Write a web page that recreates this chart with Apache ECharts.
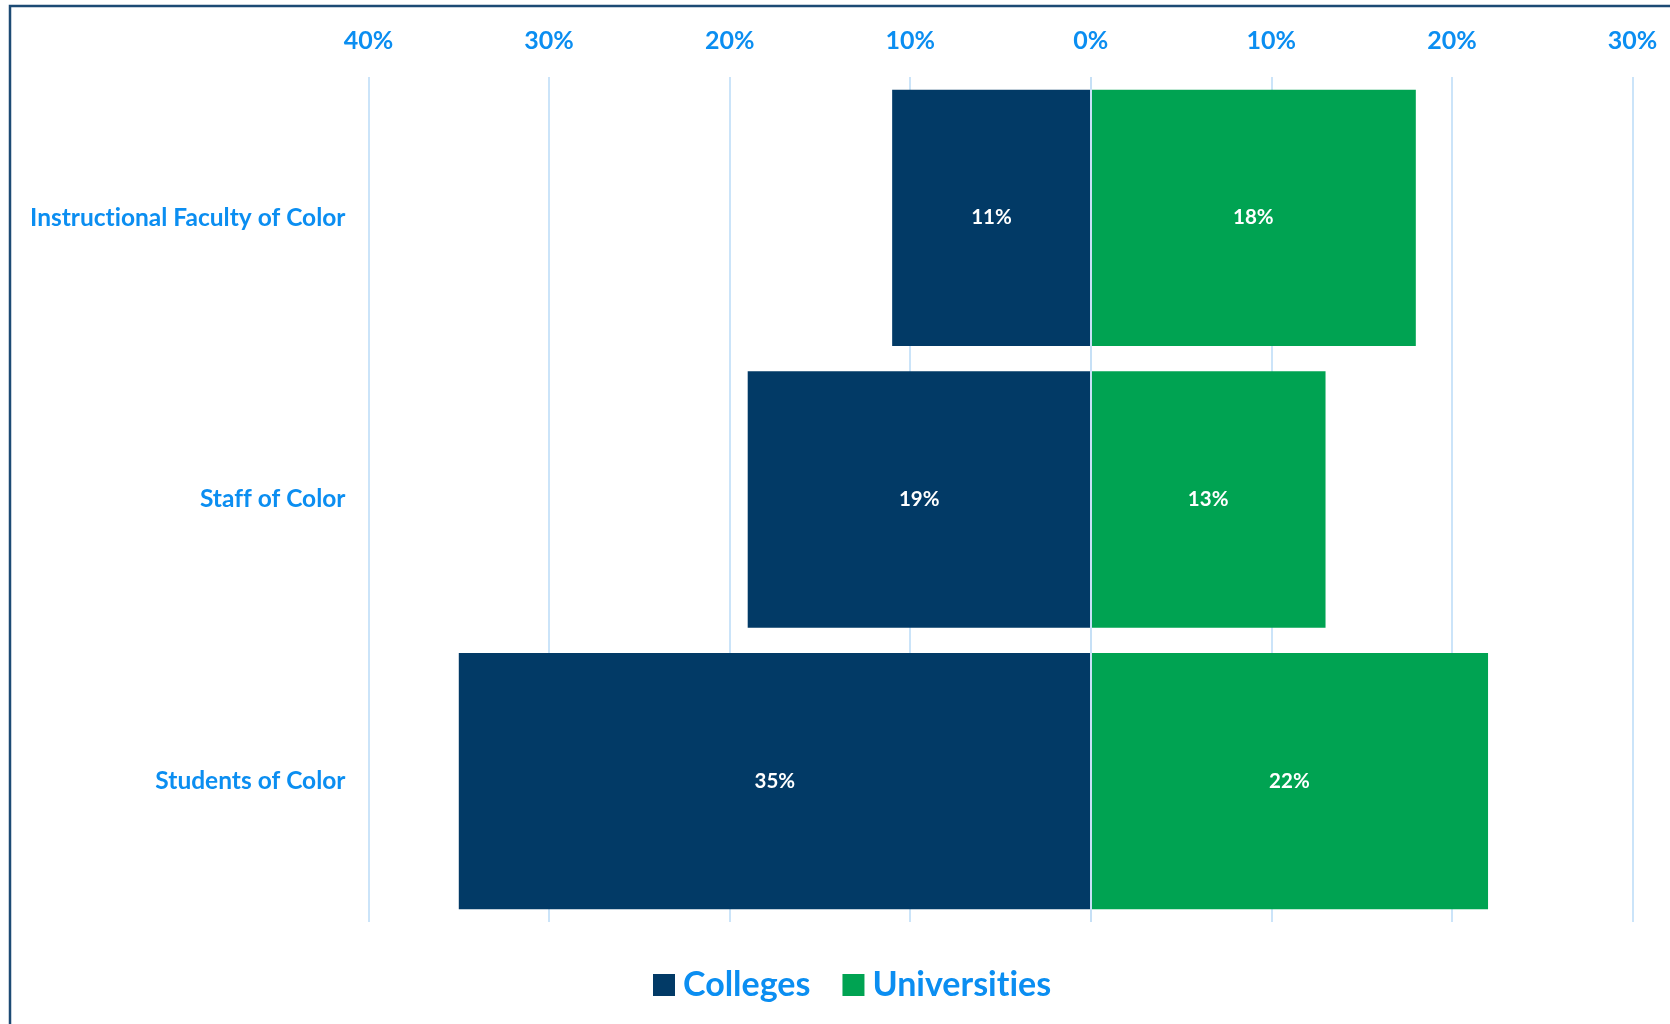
<!DOCTYPE html>
<html>
<head>
<meta charset="utf-8">
<script src="https://cdn.jsdelivr.net/npm/echarts@6/dist/echarts.min.js"></script>
<style>
  html, body { margin: 0; padding: 0; background: #ffffff; }
  #chart { width: 1670px; height: 1024px; }
</style>
</head>
<body>
<div id="chart"></div>
<script>
// Share of people of color, colleges vs universities
const categories = ['Instructional Faculty of Color', 'Staff of Color', 'Students of Color'];
const collegesPct = [11, 19, 35];
const universitiesPct = [18, 13, 22];
const tickValues = [-40, -30, -20, -10, 0, 10, 20, 30];

// Plain glyphs, no "ti" ligature in the Lato labels
(function () {
  const proto = CanvasRenderingContext2D.prototype;
  const origFill = proto.fillText;
  const origMeasure = proto.measureText;
  proto.fillText = function () { this.textRendering = 'optimizeSpeed'; return origFill.apply(this, arguments); };
  proto.measureText = function () { this.textRendering = 'optimizeSpeed'; return origMeasure.apply(this, arguments); };
})();

const FONT = 'Lato, "Open Sans", sans-serif';
const BLUE_TEXT = '#0b8ef1';
const NAVY = '#023a66';
const GREEN = '#00a352';
const GRID_LINE = '#cbe4f9';

const chart = echarts.init(document.getElementById('chart'));

chart.setOption({
  animation: false,
  backgroundColor: '#ffffff',
  textStyle: { fontFamily: FONT },
  graphic: [{
    type: 'rect',
    silent: true,
    shape: { x: 10, y: 6, width: 2000, height: 2000 },
    style: { fill: 'none', stroke: '#1c4a74', lineWidth: 2.5 }
  }],
  grid: { left: 368.5, right: 37.5, top: 77, bottom: 102, containLabel: false },
  legend: {
    left: 653,
    top: 968,
    padding: 0,
    itemWidth: 22,
    itemHeight: 22,
    itemGap: 32,
    icon: 'rect',
    selectedMode: false,
    textStyle: { color: BLUE_TEXT, fontSize: 34, fontWeight: 'bold', fontFamily: FONT, padding: [0, 0, 0, 3] },
    data: ['Colleges', 'Universities']
  },
  xAxis: {
    type: 'value',
    position: 'top',
    min: tickValues[0],
    max: tickValues[tickValues.length - 1],
    interval: 10,
    axisLine: { show: false },
    axisTick: { show: false },
    axisLabel: {
      margin: 24,
      color: BLUE_TEXT,
      fontSize: 25,
      fontWeight: 'bold',
      fontFamily: FONT,
      formatter: v => Math.abs(v) + '%'
    },
    splitLine: { show: true, lineStyle: { color: GRID_LINE, width: 2 } }
  },
  yAxis: {
    type: 'category',
    inverse: true,
    data: categories,
    axisLine: { show: false, onZero: false },
    axisTick: { show: false },
    axisLabel: {
      margin: 23,
      color: BLUE_TEXT,
      fontSize: 24.5,
      fontWeight: 'bold',
      fontFamily: FONT
    }
  },
  series: [
    {
      name: 'Colleges',
      type: 'bar',
      stack: 'share',
      barCategoryGap: '9%',
      itemStyle: { color: NAVY },
      label: {
        show: true,
        position: 'inside',
        color: '#ffffff',
        fontSize: 20.5,
        fontWeight: 'bold',
        fontFamily: FONT,
        formatter: p => Math.abs(p.value) + '%'
      },
      data: collegesPct.map(v => -v)
    },
    {
      name: 'Universities',
      type: 'bar',
      stack: 'share',
      barCategoryGap: '9%',
      itemStyle: { color: GREEN },
      label: {
        show: true,
        position: 'inside',
        color: '#ffffff',
        fontSize: 20.5,
        fontWeight: 'bold',
        fontFamily: FONT,
        formatter: p => p.value + '%'
      },
      markLine: {
        silent: true,
        symbol: 'none',
        label: { show: false },
        lineStyle: { color: '#c6e0f6', width: 2, type: 'solid' },
        data: [{ xAxis: 0 }]
      },
      data: universitiesPct
    }
  ]
});
</script>
</body>
</html>
